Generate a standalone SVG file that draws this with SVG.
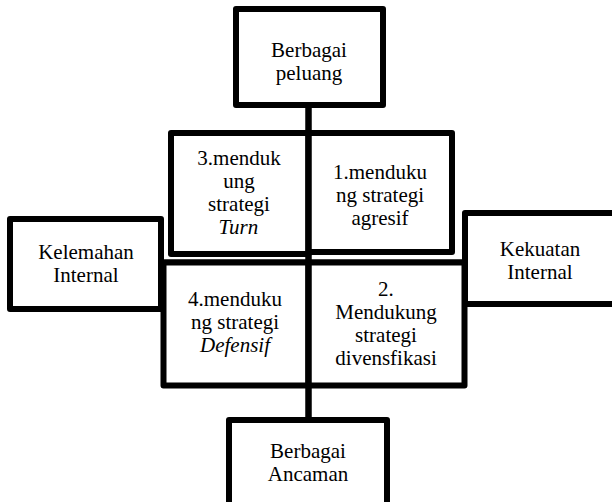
<svg xmlns="http://www.w3.org/2000/svg" width="612" height="502" viewBox="0 0 612 502">
<rect width="612" height="502" fill="#fff"/>
<g id="connectors" fill="none" stroke="#000" stroke-width="6">
<line x1="308.5" y1="105" x2="308.5" y2="420"/>
<line x1="161" y1="262.5" x2="465" y2="262.5"/>
</g>
<g id="top">
<rect x="236" y="9" width="147" height="96" fill="#fff" stroke="#000" stroke-width="6" stroke-linejoin="round"/>
<text x="271.1" y="57" style="font-family:'Liberation Serif';font-size:21px">Berbagai</text>
<text x="275.8" y="80" style="font-family:'Liberation Serif';font-size:21px">peluang</text>
</g>
<g id="q3">
<rect x="171" y="133" width="137.5" height="121" fill="#fff" stroke="#000" stroke-width="6" stroke-linejoin="round"/>
<text x="197.3" y="165" style="font-family:'Liberation Serif';font-size:21px">3.menduk</text>
<text x="223.3" y="188" style="font-family:'Liberation Serif';font-size:21px">ung</text>
<text x="208.1" y="211" style="font-family:'Liberation Serif';font-size:21px">strategi</text>
<text x="218.6" y="234" style="font-family:'Liberation Serif';font-size:21px;font-style:italic">Turn</text>
</g>
<g id="q1">
<rect x="308.5" y="133" width="143.5" height="119" fill="#fff" stroke="#000" stroke-width="6" stroke-linejoin="round"/>
<text x="333" y="179" style="font-family:'Liberation Serif';font-size:21px">1.menduku</text>
<text x="336" y="202" style="font-family:'Liberation Serif';font-size:21px">ng strategi</text>
<text x="351.4" y="225" style="font-family:'Liberation Serif';font-size:21px">agresif</text>
</g>
<g id="kelemahan">
<rect x="10" y="219" width="151" height="90" fill="#fff" stroke="#000" stroke-width="6" stroke-linejoin="round"/>
<text x="38.2" y="259" style="font-family:'Liberation Serif';font-size:21px">Kelemahan</text>
<text x="53.3" y="282" style="font-family:'Liberation Serif';font-size:21px">Internal</text>
</g>
<g id="kekuatan">
<rect x="465" y="213" width="160" height="91" fill="#fff" stroke="#000" stroke-width="6" stroke-linejoin="round"/>
<text x="499.8" y="256" style="font-family:'Liberation Serif';font-size:21px">Kekuatan</text>
<text x="507.3" y="279" style="font-family:'Liberation Serif';font-size:21px">Internal</text>
</g>
<g id="q4">
<rect x="163.5" y="262.5" width="145" height="123" fill="#fff" stroke="#000" stroke-width="6" stroke-linejoin="round"/>
<text x="188" y="306" style="font-family:'Liberation Serif';font-size:21px">4.menduku</text>
<text x="191" y="329" style="font-family:'Liberation Serif';font-size:21px">ng strategi</text>
<text x="200" y="352" style="font-family:'Liberation Serif';font-size:21px;font-style:italic">Defensif</text>
</g>
<g id="q2">
<rect x="308.5" y="262.5" width="156" height="123" fill="#fff" stroke="#000" stroke-width="6" stroke-linejoin="round"/>
<text x="378.1" y="296" style="font-family:'Liberation Serif';font-size:21px">2.</text>
<text x="335.3" y="319" style="font-family:'Liberation Serif';font-size:21px">Mendukung</text>
<text x="355.1" y="342" style="font-family:'Liberation Serif';font-size:21px">strategi</text>
<text x="335.3" y="365" style="font-family:'Liberation Serif';font-size:21px">divensfikasi</text>
</g>
<g id="bottom">
<rect x="229" y="420" width="158" height="100" fill="#fff" stroke="#000" stroke-width="6" stroke-linejoin="round"/>
<text x="270.1" y="458" style="font-family:'Liberation Serif';font-size:21px">Berbagai</text>
<text x="267.8" y="481" style="font-family:'Liberation Serif';font-size:21px">Ancaman</text>
</g>
<line x1="308.5" y1="105" x2="308.5" y2="420" stroke="#000" stroke-width="6"/>
</svg>
